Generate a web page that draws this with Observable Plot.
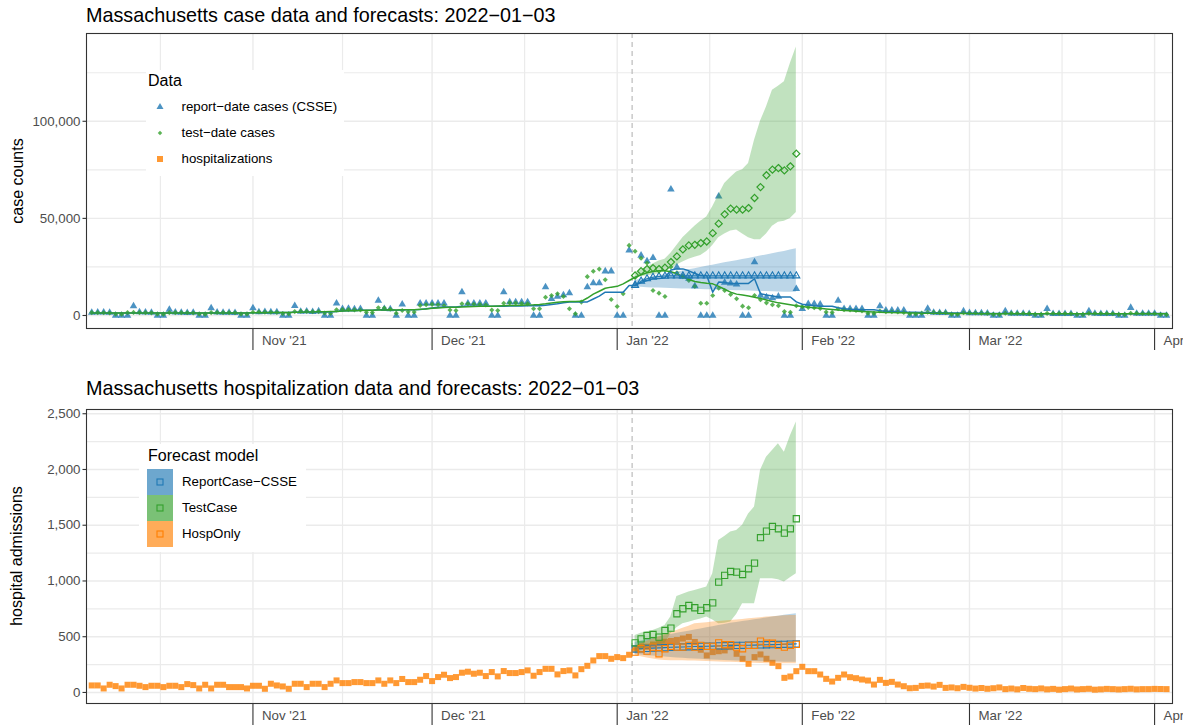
<!DOCTYPE html>
<html>
<head>
<meta charset="utf-8">
<script src="https://cdn.jsdelivr.net/npm/d3@7"></script>
<script src="https://cdn.jsdelivr.net/npm/@observablehq/plot@0.6"></script>
<style>
  html, body { margin: 0; padding: 0; background: #fff; }
  body { font-family: "Liberation Sans", Arial, Helvetica, sans-serif; }
  #wrap { position: relative; width: 1188px; height: 726px; overflow: hidden; background: #fff; }
  .panel { position: absolute; left: 0; }
  .title { position: absolute; left: 86px; font-size: 19.8px; color: #000; white-space: nowrap; line-height: 1; }
  .ytitle { position: absolute; font-size: 16px; color: #000; white-space: nowrap; transform: rotate(-90deg); transform-origin: center center; line-height: 1; }
  .legend { position: absolute; background: #fff; }
  .legend .lt { position: absolute; font-size: 16px; color: #000; white-space: nowrap; line-height: 1; }
  .legend .li { position: absolute; font-size: 13.3px; color: #000; white-space: nowrap; line-height: 1; }
  .legend svg { position: absolute; left: 0; top: 0; overflow: visible; }
</style>
</head>
<body>
<div id="wrap"></div>
<script>
// ---------------- DATA ----------------
// daily observations, 2021-10-05 (Tue) .. 2022-04-03 (Sun), 181 days
const firstDay = "2021-10-05";
const reportDateCases = [ // CSSE report-date cases
  1500,1600,1600,1500,0,0,0,
  4800,1700,1600,1500,0,0,3000,
  1600,1500,1400,1500,0,0,3800,
  1600,1500,1500,1400,0,0,3800,
  1800,1900,1700,1800,0,0,5000,
  2000,2100,1900,2200,0,0,6300,
  3400,3500,3300,3400,0,0,7700,
  3400,3300,0,5700,0,0,6300,
  6300,6300,6300,6300,0,0,12000,
  6300,6300,6300,6300,0,0,12000,
  6900,6900,6900,6900,0,0,14600,
  8600,9800,10500,11500,0,0,14600,
  16700,16700,22800,22800,0,0,33500,
  16000,30900,28000,29700,0,0,65000,
  24900,20000,19000,15100,0,0,0,
  61300,17000,16500,16000,0,0,27500,
  10300,9500,9000,9800,0,0,13700,
  3400,6000,6000,5700,0,0,7700,
  3400,3400,3400,3400,0,0,4800,
  2600,2600,2600,2600,0,0,0,
  3500,1500,1400,1400,0,0,2200,
  1300,1200,1200,1100,0,0,2300,
  1000,1000,950,900,0,0,3450,
  900,900,850,850,0,0,2300,
  950,900,900,850,0,0,4000,
  1000,1000,950,1000,0,0
];
const testDateCases = [
  1500,1450,1400,1300,800,700,1500,
  1600,1500,1450,1350,800,700,1500,
  1500,1450,1400,1300,750,700,1500,
  1550,1500,1450,1400,800,750,1700,
  1800,1750,1700,1600,1000,900,2000,
  2200,2100,1900,2000,1300,1100,2900,
  3100,3000,2900,2800,1700,1500,3950,
  3800,3200,1200,2600,1900,1800,5200,
  5500,5700,5500,5000,2800,2600,6000,
  6000,5800,5600,5400,2800,2600,6300,
  6500,6400,6200,6000,3450,3450,9400,
  10300,11200,9800,3450,900,6900,20000,
  22800,23900,18400,8200,4600,11200,36100,
  33100,29500,27000,12900,11500,9800,25000,
  22000,20000,18000,15000,6300,6300,10300,
  14000,12900,10800,8600,4800,4000,10300,
  8100,6500,5500,5000,2000,1700,5000,
  4500,4200,4000,3600,1800,1600,3500,
  3000,2800,2600,2400,1200,1100,2300,
  2000,1900,1800,1600,900,800,1200,
  1700,1600,1500,1400,700,650,1400,
  1300,1250,1200,1100,600,550,1200,
  1100,1050,1000,950,500,450,1100,
  1000,1000,950,900,500,450,1100,
  1050,1000,950,900,500,450,1150,
  1100,1050,1000,950,500,450
];
const reportDateAvg = [ // CSSE 7-day average line
  1300,1300,1300,1300,1300,1250,1250,
  1300,1300,1300,1300,1300,1250,1250,
  1250,1250,1250,1250,1250,1250,1250,
  1250,1300,1300,1300,1300,1300,1400,
  1450,1500,1500,1550,1550,1550,1650,
  1700,1750,1800,1850,1850,1850,2100,
  2300,2500,2600,2700,2700,2700,2900,
  2900,2900,2700,3000,3000,3000,3100,
  3500,3900,4200,4400,4400,4400,4700,
  4700,4700,4800,4800,4800,4800,4800,
  4900,4900,4900,5000,5000,5000,5300,
  5600,6000,6500,6900,6900,6900,7000,
  8500,10000,12000,12000,12000,12000,15500,
  15500,17000,18000,19000,19000,19400,23400,
  24000,24000,23000,21600,20600,20600,12000,
  17200,17000,16500,16500,16500,16500,18900,
  11200,10500,10000,9500,9500,9500,7000,
  5800,5400,5000,4800,4800,4800,4000,
  3500,3200,3100,3000,3000,3000,2500,
  2200,2000,1800,1700,1700,1700,1500,
  1500,1400,1400,1300,1300,1300,1200,
  1150,1100,1100,1050,1050,1050,1000,
  950,900,900,850,850,850,850,
  850,850,850,850,850,850,850,
  850,850,850,900,900,900,950,
  950,1000,1000,1000,1000,1000
];
const testDateAvg = [
  1250,1250,1250,1250,1250,1250,1250,
  1250,1250,1250,1250,1250,1250,1250,
  1250,1250,1250,1250,1250,1250,1250,
  1300,1300,1300,1300,1300,1300,1350,
  1400,1450,1500,1550,1600,1600,1650,
  1700,1800,1850,1900,1950,2000,2100,
  2300,2400,2500,2600,2650,2700,2800,
  2850,2900,2800,2900,2950,3000,3200,
  3400,3700,3900,4100,4200,4300,4400,
  4500,4600,4700,4800,4800,4900,5000,
  5100,5200,5300,5400,5500,5700,6000,
  6400,6800,7100,7200,7200,7300,9000,
  11000,12500,14000,14600,15000,16300,18000,
  19700,21000,22000,22700,23000,23000,22500,
  21500,20000,18500,17500,17000,16600,16300,
  15000,13500,12000,11000,10500,10000,9400,
  8800,8000,7200,6500,6000,5500,5000,
  4600,4300,4000,3700,3400,3100,2800,
  2600,2400,2200,2000,1900,1800,1700,
  1600,1500,1400,1350,1300,1250,1200,
  1200,1150,1100,1100,1050,1050,1000,
  1000,1000,950,950,950,900,900,
  900,900,850,850,850,850,850,
  850,850,850,850,850,850,850,
  850,850,850,850,850,850,850,
  850,850,850,850,850,850
];
const hospitalAdmissions = [
  63,63,36,69,57,36,69,
  69,60,48,60,60,48,60,
  60,48,75,66,36,69,36,
  69,69,48,48,48,36,60,
  60,33,78,63,54,33,78,
  78,48,78,78,48,78,108,
  84,84,93,93,84,84,108,
  78,108,84,121,93,93,114,
  147,102,138,159,129,138,177,
  186,168,177,147,183,144,192,
  174,174,183,198,150,183,212,
  212,162,192,198,153,209,239,
  287,326,326,302,317,308,338,
  392,414,410,430,440,455,462,
  470,484,498,453,383,332,362,
  370,377,407,347,302,257,317,
  341,302,266,236,131,143,191,
  230,191,191,161,122,98,131,
  161,137,128,116,107,71,113,
  86,95,71,56,38,41,59,
  62,53,68,41,45,38,50,
  42,35,40,33,38,45,30,
  35,28,40,33,30,36,28,
  32,25,30,35,27,30,33,
  25,28,32,30,27,30,33,
  28,30,30,32,31,30
];

// forecasts: 28 days, 2022-01-04 .. 2022-01-31
const forecastStart = "2022-01-04";
const forecastDate = "2022-01-03T12:00";
// case forecasts
const caseCsseMedian = [15500,17700,18900,19700,20100,20300,20400,20400,20400,20400,20400,20400,20400,20400,20400,20400,20400,20400,20400,20400,20400,20400,20400,20400,20400,20400,20400,20400];
const caseCsseLower  = [14600,14500,14300,14200,14100,14000,13900,13800,13700,13600,13500,13400,13300,13200,13100,13000,12900,12800,12700,12600,12500,12400,12300,12200,12100,12000,12000,12000];
const caseCsseUpper  = [18000,18700,19300,19900,20500,21100,21700,22300,22900,23500,24100,24700,25300,25900,26500,27100,27700,28200,28800,29400,30000,30600,31200,31800,32400,33000,33700,34400];
const caseTestMedian = [20600,22800,23900,24400,23900,24600,27500,30400,34000,36100,36400,37300,38100,42400,47300,52100,55000,54500,54500,55300,60500,66100,72200,75100,75900,74700,76800,83300];
const caseTestLower  = [19500,20000,20500,21000,21500,22500,24000,26000,27500,29000,30000,30900,33000,36000,40000,42000,43500,44000,42000,40000,39000,39000,42000,46000,48000,48500,50000,53000];
const caseTestUpper  = [22000,23500,25000,26500,28000,29000,32000,36000,40000,43000,46000,48500,50700,56000,62000,67900,71000,73900,75000,78200,90200,100000,107400,116000,118000,120300,129700,138300];
// hospitalization forecasts
const hospCsseMedian = [390,392,395,398,400,402,405,407,408,410,412,413,415,416,418,419,420,422,423,424,425,427,428,429,430,432,434,436];
const hospCsseLower  = [340,335,330,326,322,318,314,310,306,303,300,297,294,291,289,287,285,283,281,279,277,276,275,274,273,272,271,270];
const hospCsseUpper  = [450,462,474,486,498,510,520,530,540,550,560,570,580,590,600,610,620,628,636,644,652,660,668,676,684,692,700,706];
const hospTestMedian = [445,481,511,520,496,556,577,706,751,780,760,736,760,804,990,1050,1085,1079,1058,1109,1160,1388,1447,1489,1468,1429,1468,1558];
const hospTestLower  = [347,375,407,420,430,440,526,580,616,630,646,660,676,650,616,620,631,700,795,795,795,1020,1020,1020,1010,990,1030,1065];
const hospTestUpper  = [511,530,545,556,575,600,680,860,880,900,915,930,945,1065,1364,1400,1439,1453,1500,1600,1663,1991,2110,2170,2230,2155,2300,2425];
const hospOnlyMedian = [362,392,371,407,347,392,413,407,407,422,407,422,413,413,445,428,428,407,392,422,422,460,442,442,422,407,422,431];
const hospOnlyLower  = [332,320,310,300,292,287,285,285,285,283,282,280,278,276,274,272,270,268,266,264,262,260,258,257,257,257,257,257];
const hospOnlyUpper  = [420,440,460,480,500,520,540,556,575,595,616,620,625,631,636,640,646,650,655,661,666,670,676,680,684,688,690,691];

// axes / labels
const monthBreaks = ["2021-11-01","2021-12-01","2022-01-01","2022-02-01","2022-03-01","2022-04-01"];
const monthLabels = ["Nov '21","Dec '21","Jan '22","Feb '22","Mar '22","Apr '22"];
const minorBreaks = ["2021-10-16T12:00","2021-11-16","2021-12-16T12:00","2022-01-16T12:00","2022-02-15","2022-03-16T12:00"];
const xRange = ["2021-10-04T03:00","2022-04-04T00:00"];
const caseTicks = [0, 50000, 100000];
const caseMinor = [25000, 75000, 125000];
const caseDomain = [-6700, 145200];
const hospTicks = [0, 500, 1000, 1500, 2000, 2500];
const hospMinor = [250, 750, 1250, 1750, 2250];
const hospDomain = [-99, 2538];
const dataLegend = ["report\u2212date cases (CSSE)", "test\u2212date cases", "hospitalizations"];
const modelLegend = ["ReportCase\u2212CSSE", "TestCase", "HospOnly"];
const titles = ["Massachusetts case data and forecasts: 2022\u221201\u221203",
                "Massachusetts hospitalization data and forecasts: 2022\u221201\u221203"];
const yTitles = ["case counts", "hospital admissions"];

// ---------------- BUILD ----------------
const lens = [reportDateCases, testDateCases, reportDateAvg, testDateAvg, hospitalAdmissions].map(a => a.length);
if (lens.some(n => n !== 181)) throw new Error("length mismatch " + lens.join(","));
const fl = [caseCsseMedian,caseCsseLower,caseCsseUpper,caseTestMedian,caseTestLower,caseTestUpper,hospCsseMedian,hospCsseLower,hospCsseUpper,hospTestMedian,hospTestLower,hospTestUpper,hospOnlyMedian,hospOnlyLower,hospOnlyUpper].map(a=>a.length);
if (fl.some(n => n !== 28)) throw new Error("fc length mismatch " + fl.join(","));

const utc = s => new Date(s + (s.length > 10 ? ":00Z" : "T00:00:00Z"));
const d0 = utc(firstDay), f0 = utc(forecastStart);
const obs = reportDateCases.map((v, i) => ({
  date: d3.utcDay.offset(d0, i), csse: v, test: testDateCases[i],
  csseAvg: reportDateAvg[i], testAvg: testDateAvg[i], hosp: hospitalAdmissions[i]
}));
const fc = caseCsseMedian.map((v, k) => ({
  date: d3.utcDay.offset(f0, k),
  cM: v, cL: caseCsseLower[k], cU: caseCsseUpper[k],
  tM: caseTestMedian[k], tL: caseTestLower[k], tU: caseTestUpper[k],
  hcM: hospCsseMedian[k], hcL: hospCsseLower[k], hcU: hospCsseUpper[k],
  htM: hospTestMedian[k], htL: hospTestLower[k], htU: hospTestUpper[k],
  hoM: hospOnlyMedian[k], hoL: hospOnlyLower[k], hoU: hospOnlyUpper[k]
}));

const BLUE = "#1F78B4", GREEN = "#33A02C", ORANGE = "#FF7F00";
const GRID = "#ebebeb", DARK = "#333333", TICKTXT = "#4d4d4d";
const majorX = monthBreaks.map(utc), minorX = minorBreaks.map(utc);
const xDom = xRange.map(utc);
const refX = [utc(forecastDate)];
const fmtComma = d3.format(",");
const labelOf = d => monthLabels[majorX.findIndex(m => +m === +d)];

function frameMarks(yTicks, yMinor) {
  return [
    Plot.gridY(yMinor, {stroke: GRID, strokeOpacity: 1, strokeWidth: 1.2}),
    Plot.gridX(minorX, {stroke: GRID, strokeOpacity: 1, strokeWidth: 1.2}),
    Plot.gridY(yTicks, {stroke: GRID, strokeOpacity: 1, strokeWidth: 1.4}),
    Plot.gridX(majorX, {stroke: GRID, strokeOpacity: 1, strokeWidth: 1.4}),
    Plot.ruleX(refX, {stroke: "#b5b5b5", strokeWidth: 1.1, strokeDasharray: "5,4"})
  ];
}
function axisMarks(yTicks) {
  return [
    Plot.axisX(majorX, {tickSize: 22, stroke: DARK, strokeWidth: 1.1, fill: "none", label: null}),
    Plot.axisX(majorX, {tickSize: 0, tickPadding: 7, tickFormat: labelOf, textAnchor: "start", dx: 9, fill: TICKTXT, fontSize: 13.3, label: null}),
    Plot.axisY(yTicks, {tickSize: 3.5, tickPadding: 2.5, tickFormat: fmtComma, stroke: DARK, strokeWidth: 1.1, fill: TICKTXT, fontSize: 13.3, label: null}),
    Plot.frame({stroke: DARK, strokeWidth: 1.1})
  ];
}

const common = {
  width: 1183, height: 363, marginLeft: 86, marginRight: 11,
  x: {type: "utc", domain: xDom},
  style: {fontFamily: '"Liberation Sans", Arial, sans-serif', background: "transparent", overflow: "hidden"}
};

const casePlot = Plot.plot({
  ...common, marginTop: 33, marginBottom: 35,
  y: {domain: caseDomain},
  marks: [
    ...frameMarks(caseTicks, caseMinor),
    Plot.dot(obs, {x: "date", y: "csse", symbol: "triangle", r: 2.8, fill: BLUE, fillOpacity: 0.8, stroke: "none"}),
    Plot.dot(obs, {x: "date", y: "test", symbol: "diamond2", r: 2.3, fill: GREEN, fillOpacity: 0.8, stroke: "none"}),
    Plot.areaY(fc, {x: "date", y1: "cL", y2: "cU", fill: BLUE, fillOpacity: 0.3}),
    Plot.areaY(fc, {x: "date", y1: "tL", y2: "tU", fill: GREEN, fillOpacity: 0.3}),
    Plot.lineY(obs, {x: "date", y: "csseAvg", stroke: BLUE, strokeWidth: 1.5}),
    Plot.lineY(obs, {x: "date", y: "testAvg", stroke: GREEN, strokeWidth: 1.5}),
    Plot.lineY(fc, {x: "date", y: "cM", stroke: BLUE, strokeWidth: 1.1}),
    Plot.dot(fc, {x: "date", y: "cM", symbol: "triangle", r: 2.6, fill: "none", stroke: BLUE, strokeWidth: 1.1}),
    Plot.dot(fc, {x: "date", y: "tM", symbol: "diamond2", r: 3.2, fill: "none", stroke: GREEN, strokeWidth: 1.2}),
    ...axisMarks(caseTicks)
  ]
});

const hospPlot = Plot.plot({
  ...common, marginTop: 46, marginBottom: 23,
  y: {domain: hospDomain},
  marks: [
    ...frameMarks(hospTicks, hospMinor),
    Plot.dot(obs, {x: "date", y: "hosp", symbol: "square", r: 3.4, fill: ORANGE, fillOpacity: 0.8, stroke: "none"}),
    Plot.areaY(fc, {x: "date", y1: "hcL", y2: "hcU", fill: BLUE, fillOpacity: 0.3}),
    Plot.areaY(fc, {x: "date", y1: "htL", y2: "htU", fill: GREEN, fillOpacity: 0.3}),
    Plot.areaY(fc, {x: "date", y1: "hoL", y2: "hoU", fill: ORANGE, fillOpacity: 0.3}),
    Plot.lineY(fc, {x: "date", y: "hcM", stroke: BLUE, strokeWidth: 1.1}),
    Plot.dot(fc, {x: "date", y: "hcM", symbol: "square", r: 3.5, fill: "none", stroke: BLUE, strokeWidth: 1.1}),
    Plot.dot(fc, {x: "date", y: "htM", symbol: "square", r: 3.5, fill: "none", stroke: GREEN, strokeWidth: 1.1}),
    Plot.dot(fc, {x: "date", y: "hoM", symbol: "square", r: 3.5, fill: "none", stroke: ORANGE, strokeWidth: 1.1}),
    ...axisMarks(hospTicks)
  ]
});

const wrap = d3.select("#wrap");
[casePlot, hospPlot].forEach((p, i) => {
  const holder = wrap.append("div").attr("class", "panel").style("top", (i * 363) + "px");
  holder.node().appendChild(p);
});
// titles
wrap.append("div").attr("class", "title").style("top", "6px").text(titles[0]);
wrap.append("div").attr("class", "title").style("top", "379px").text(titles[1]);
// y axis titles (rotated)
[[180.5, yTitles[0]], [556, yTitles[1]]].forEach(([cy, t]) => {
  const d = wrap.append("div").attr("class", "ytitle").text(t);
  const el = d.node();
  const ow = el.offsetWidth, oh = el.offsetHeight;
  d.style("left", (17 - ow / 2) + "px").style("top", (cy - oh / 2) + "px");
});

// legend 1: Data
const colors = [BLUE, GREEN, ORANGE];
const syms = [d3.symbolTriangle, d3.symbolDiamond2, d3.symbolSquare];
const symSizes = [Math.PI * 2.6 * 2.6, Math.PI * 2.0 * 2.0, Math.PI * 3.4 * 3.4];
const lg1 = wrap.append("div").attr("class", "legend")
  .style("left", "146px").style("top", "70px").style("width", "198px").style("height", "106px");
lg1.append("div").attr("class", "lt").style("left", "2px").style("top", "3px").text("Data");
const s1 = lg1.append("svg").attr("width", 198).attr("height", 106);
dataLegend.forEach((name, i) => {
  const cy = 37 + i * 26;
  s1.append("path").attr("d", d3.symbol(syms[i], symSizes[i])())
    .attr("transform", `translate(14,${cy})`).attr("fill", colors[i]).attr("fill-opacity", 0.8);
  lg1.append("div").attr("class", "li").style("left", "35.5px").style("top", (cy - 7.5) + "px").text(name);
});

// legend 2: Forecast model
const lg2 = wrap.append("div").attr("class", "legend")
  .style("left", "139px").style("top", "444px").style("width", "167px").style("height", "108px");
lg2.append("div").attr("class", "lt").style("left", "9px").style("top", "4px").text("Forecast model");
const s2 = lg2.append("svg").attr("width", 167).attr("height", 108);
modelLegend.forEach((name, i) => {
  const top = 25 + i * 26;
  s2.append("rect").attr("x", 8).attr("y", top).attr("width", 26).attr("height", 26)
    .attr("fill", colors[i]).attr("fill-opacity", 0.65);
  s2.append("rect").attr("x", 18).attr("y", top + 10).attr("width", 6).attr("height", 6)
    .attr("fill", "none").attr("stroke", colors[i]).attr("stroke-width", 1.1);
  lg2.append("div").attr("class", "li").style("left", "43px").style("top", (top + 13 - 7.5) + "px").text(name);
});
</script>
</body>
</html>
